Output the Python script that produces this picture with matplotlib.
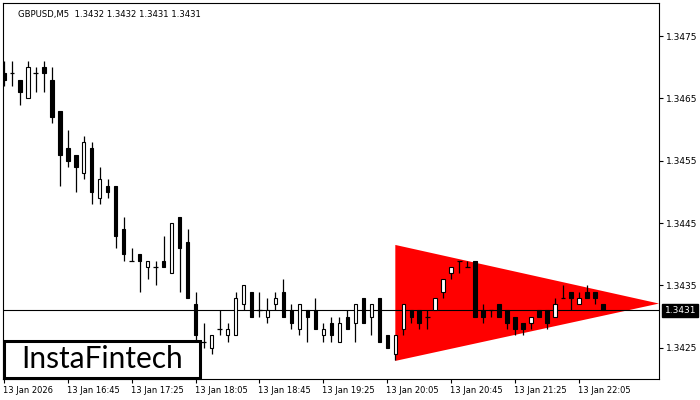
import matplotlib
matplotlib.use("Agg")
import matplotlib.pyplot as plt
from matplotlib.patches import Rectangle, Polygon
import matplotlib.transforms as mtransforms

# Velas GBPUSD M5
opens = [1.3469, 1.3469, 1.3468, 1.3465, 1.3469, 1.3470, 1.3468, 1.3463, 1.3457, 1.3456,
         1.3453, 1.3457, 1.3449, 1.3451, 1.3451, 1.3444, 1.3439, 1.3440, 1.3438, 1.3438,
         1.3439, 1.3437, 1.3446, 1.3442, 1.3432, 1.3426, 1.3425, 1.3428, 1.3427, 1.3427,
         1.3432, 1.3434, 1.3431, 1.3430, 1.3432, 1.3434, 1.3431, 1.3428, 1.3431, 1.3431,
         1.3427, 1.3429, 1.3426, 1.3430, 1.3429, 1.3433, 1.3430, 1.3433, 1.3427, 1.3424,
         1.3428, 1.3431, 1.3431, 1.3430, 1.3431, 1.3434, 1.3437, 1.3439, 1.3438, 1.3439,
         1.3431, 1.3431, 1.3432, 1.3431, 1.3430, 1.3429, 1.3429, 1.3431, 1.3431, 1.3430,
         1.3433, 1.3434, 1.3432, 1.3434, 1.3434, 1.3432]
highs = [1.3471, 1.3471, 1.3468, 1.3471, 1.3470, 1.3471, 1.3470, 1.3463, 1.3460, 1.3456,
         1.3459, 1.3458, 1.3454, 1.3452, 1.3451, 1.3446, 1.3441, 1.3440, 1.3439, 1.3439,
         1.3443, 1.3445, 1.3446, 1.3444, 1.3434, 1.3429, 1.3427, 1.3431, 1.3429, 1.3434,
         1.3435, 1.3434, 1.3434, 1.3433, 1.3434, 1.3436, 1.3432, 1.3432, 1.3431, 1.3433,
         1.3429, 1.3430, 1.3430, 1.3431, 1.3432, 1.3433, 1.3432, 1.3433, 1.3427, 1.3427,
         1.3432, 1.3431, 1.3431, 1.3431, 1.3433, 1.3436, 1.3438, 1.3439, 1.3439, 1.3439,
         1.3432, 1.3431, 1.3432, 1.3431, 1.3430, 1.3429, 1.3430, 1.3431, 1.3431, 1.3433,
         1.3435, 1.3434, 1.3434, 1.3435, 1.3434, 1.3432]
lows = [1.3467, 1.3467, 1.3464, 1.3465, 1.3466, 1.3466, 1.3461, 1.3451, 1.3454, 1.3450,
        1.3452, 1.3448, 1.3448, 1.3449, 1.3441, 1.3439, 1.3439, 1.3434, 1.3436, 1.3435,
        1.3438, 1.3437, 1.3434, 1.3433, 1.3426, 1.3425, 1.3424, 1.3427, 1.3426, 1.3427,
        1.3431, 1.3430, 1.3430, 1.3429, 1.3431, 1.3430, 1.3428, 1.3427, 1.3426, 1.3428,
        1.3426, 1.3426, 1.3426, 1.3428, 1.3426, 1.3429, 1.3427, 1.3426, 1.3425, 1.3423,
        1.3427, 1.3429, 1.3428, 1.3428, 1.3431, 1.3433, 1.3436, 1.3437, 1.3438, 1.3430,
        1.3429, 1.3430, 1.3430, 1.3428, 1.3427, 1.3427, 1.3428, 1.3430, 1.3428, 1.3430,
        1.3433, 1.3431, 1.3432, 1.3433, 1.3432, 1.3431]
closes = [1.3468, 1.3469, 1.3466, 1.3470, 1.3469, 1.3469, 1.3462, 1.3456, 1.3455, 1.3454,
          1.3458, 1.3450, 1.3452, 1.3450, 1.3443, 1.3440, 1.3439, 1.3439, 1.3439, 1.3438,
          1.3438, 1.3445, 1.3441, 1.3433, 1.3427, 1.3426, 1.3427, 1.3428, 1.3428, 1.3433,
          1.3435, 1.3430, 1.3431, 1.3431, 1.3433, 1.3430, 1.3429, 1.3432, 1.3430, 1.3428,
          1.3428, 1.3427, 1.3429, 1.3428, 1.3432, 1.3429, 1.3432, 1.3426, 1.3425, 1.3427,
          1.3432, 1.3430, 1.3429, 1.3430, 1.3433, 1.3436, 1.3438, 1.3439, 1.3438, 1.3430,
          1.3430, 1.3431, 1.3430, 1.3429, 1.3428, 1.3428, 1.3430, 1.3430, 1.3429, 1.3432,
          1.3433, 1.3433, 1.3433, 1.3433, 1.3433, 1.3431]

# Etiquetas de tiempo (cada 8 velas)
tick_bars = [0, 8, 16, 24, 32, 40, 48, 56, 64, 72]
tick_labels = ["13 Jan 2026", "13 Jan 16:45", "13 Jan 17:25", "13 Jan 18:05", "13 Jan 18:45",
               "13 Jan 19:25", "13 Jan 20:05", "13 Jan 20:45", "13 Jan 21:25", "13 Jan 22:05"]
price_ticks = [1.3425, 1.3435, 1.3445, 1.3455, 1.3465, 1.3475]

# Triangulo simetrico (patron bajista)
tri_x = [49, 49, 82]
tri_y = [1.34415, 1.34229, 1.34321]

last_price = 1.3431
title = "GBPUSD,M5  1.3432 1.3432 1.3431 1.3431"

W, H = 700, 400
fig = plt.figure(figsize=(7, 4), dpi=100)
ax = fig.add_axes([3 / W, (H - 379) / H, 656 / W, 376 / H])
ax.set_xlim(-0.1, 82)
ax.set_ylim(1.34200, 1.34803)

ax.add_patch(Polygon(list(zip(tri_x, tri_y)), closed=True, facecolor="#ff0000",
                     edgecolor="none", zorder=1))
ax.axhline(last_price, color="black", lw=0.8, zorder=2)

bw = 0.45
for i, (o, h, l, c) in enumerate(zip(opens, highs, lows, closes)):
    ax.vlines(i, l, h, color="black", lw=0.9, zorder=3)
    if c == o:
        ax.hlines(o, i - bw / 2 - 0.06, i + bw / 2 + 0.06, color="black", lw=0.9, zorder=4)
    else:
        fc = "white" if c > o else "black"
        ax.add_patch(Rectangle((i - bw / 2, min(o, c)), bw, abs(c - o),
                               facecolor=fc, edgecolor="black", lw=0.8, zorder=4))

ax.yaxis.tick_right()
ax.set_yticks(price_ticks)
ax.set_yticklabels([f"{p:.4f}" for p in price_ticks])
ax.set_xticks(tick_bars)
ax.set_xticklabels(tick_labels, ha="left")
ax.tick_params(axis="y", length=3, width=0.8, labelsize=6.5, pad=2)
ax.tick_params(axis="x", length=3, width=0.8, labelsize=6, pad=2)
for lab in ax.get_xticklabels():
    lab.set_transform(lab.get_transform() + mtransforms.ScaledTranslation(-1 / 100, 0, fig.dpi_scale_trans))
for s in ax.spines.values():
    s.set_linewidth(0.8)

ax.text(15 / 656, 1 - 12 / 376, title, transform=ax.transAxes, fontsize=6.1,
        va="center", ha="left", color="black")

# Etiqueta del precio actual
ax.annotate(f"{last_price:.4f}", xy=(1, last_price), xycoords=("axes fraction", "data"),
            xytext=(4, 0), textcoords="offset points", fontsize=6.5, color="white",
            va="center", ha="left", annotation_clip=False,
            bbox=dict(boxstyle="square,pad=0.25", facecolor="black", edgecolor="black"))

# Logo
fig.patches.append(Rectangle((4 / W, (H - 378) / H), 196 / W, 37 / H, transform=fig.transFigure,
                             facecolor="white", edgecolor="black", lw=2.2, zorder=10))
fig.text(102 / W, (H - 359) / H, "InstaFintech", fontsize=21.5, family="Lato",
         ha="center", va="center", color="black", zorder=11)

fig.savefig("out.png", dpi=100)
